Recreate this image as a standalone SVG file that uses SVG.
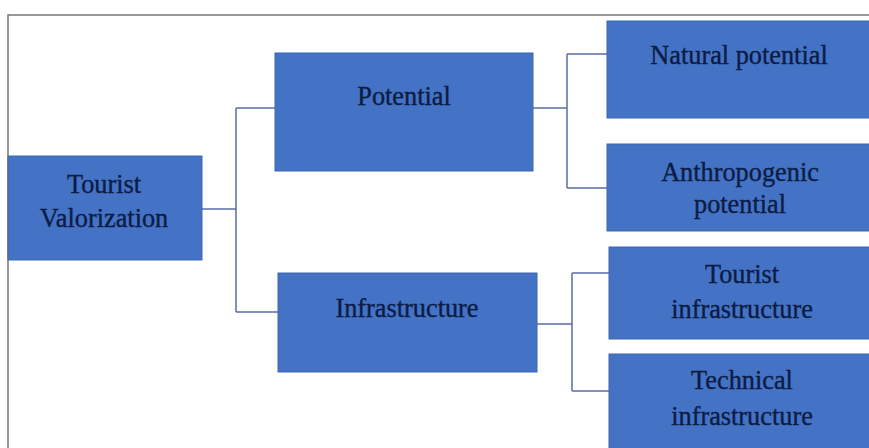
<svg xmlns="http://www.w3.org/2000/svg" width="869" height="448" viewBox="0 0 869 448">
<style>
.box{fill:#4472c4;stroke:#3d66b0;stroke-width:1}
.t{font-family:"Liberation Serif","Times New Roman",serif;font-size:26.3px;fill:#0b1c45;stroke:#0b1c45;stroke-width:0.35;text-anchor:middle}
.c{fill:none;stroke:#5b6fa6;stroke-width:1.5}
.frame{fill:none;stroke:#777;stroke-width:1.5}
</style>
<rect width="869" height="448" fill="#fff"/>
<path class="frame" d="M8 448 V15 H869"/>
<g id="connectors">
<path class="c" d="M202 209 H236 M236 108 V312 M236 108 H275 M236 312 H278"/>
<path class="c" d="M533 108 H567 M567 54 V188 M567 54 H607 M567 188 H607"/>
<path class="c" d="M537 324 H572 M572 273 V391 M572 273 H609 M572 391 H609"/>
</g>
<g id="tourist-valorization">
<rect class="box" x="8" y="156" width="194" height="104"/>
<text class="t" x="104" y="193">Tourist</text>
<text class="t" x="104" y="227">Valorization</text>
</g>
<g id="potential">
<rect class="box" x="275" y="53" width="258" height="118"/>
<text class="t" x="404" y="105">Potential</text>
</g>
<g id="infrastructure">
<rect class="box" x="278" y="273" width="259" height="99"/>
<text class="t" x="407" y="317">Infrastructure</text>
</g>
<g id="natural-potential">
<rect class="box" x="607" y="21" width="265" height="97"/>
<text class="t" x="739" y="64">Natural potential</text>
</g>
<g id="anthropogenic-potential">
<rect class="box" x="607" y="144" width="265" height="87"/>
<text class="t" x="740" y="181">Anthropogenic</text>
<text class="t" x="740" y="213">potential</text>
</g>
<g id="tourist-infrastructure">
<rect class="box" x="609" y="247" width="263" height="92"/>
<text class="t" x="742" y="283">Tourist</text>
<text class="t" x="742" y="318">infrastructure</text>
</g>
<g id="technical-infrastructure">
<rect class="box" x="609" y="354" width="263" height="98"/>
<text class="t" x="742" y="389">Technical</text>
<text class="t" x="742" y="425">infrastructure</text>
</g>
</svg>
